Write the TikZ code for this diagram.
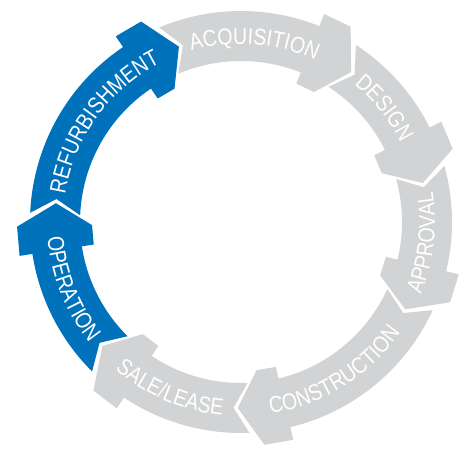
\documentclass[tikz,border=0pt]{standalone}
\usepackage{fontspec}
\newfontfamily\ringlabelfam{Liberation Sans}[FakeStretch=0.85]
\usetikzlibrary{decorations.text}
\definecolor{ringblue}{RGB}{0,114,188}
\definecolor{ringgray}{RGB}{209,211,212}
\newcommand{\ringlabelstyle}{\ringlabelfam\fontsize{23}{23}\selectfont\color{white}}
% #1 tail apex angle, #2 head apex angle, #3 colour
\newcommand{\ringseg}[3]{%
  \pgfmathsetmacro{\hA}{#2+7}%
  \pgfmathsetmacro{\hB}{#2+14.5}%
  \pgfmathsetmacro{\tO}{#1+3.3}%
  \pgfmathsetmacro{\tI}{#1+3.4}%
  \pgfmathsetmacro{\tN}{#1-1.3}%
  \fill[#3] (#2:186pt) -- (\hA:224pt) -- (\hB:224pt) -- (\hB:211pt)
    arc[start angle=\hB, end angle=\tO, radius=211pt] -- (\tN:186pt) -- (\tI:161pt)
    arc[start angle=\tI, end angle=\hB, radius=161pt] -- (\hB:149pt) -- (\hA:149pt) -- cycle;
}
% clockwise label, letters facing outward
\newcommand{\outlabel}[2]{%
  \pgfmathsetmacro{\la}{#1+45}\pgfmathsetmacro{\lb}{#1-45}%
  \path[decorate, decoration={text along path, text align=center, text={|\ringlabelstyle|#2}}]
    (\la:178pt) arc[start angle=\la, end angle=\lb, radius=178pt];
}
% counter-clockwise label, letters facing inward
\newcommand{\inlabel}[2]{%
  \pgfmathsetmacro{\la}{#1-45}\pgfmathsetmacro{\lb}{#1+45}%
  \path[decorate, decoration={text along path, text align=center, text={|\ringlabelstyle|#2}}]
    (\la:194pt) arc[start angle=\la, end angle=\lb, radius=194pt];
}
\begin{document}
\begin{tikzpicture}[x=1pt,y=1pt]
\useasboundingbox (0,0) rectangle (470,448);
\begin{scope}[shift={(241pt,226pt)}]
  \ringseg{174.2}{109.5}{ringblue}   % refurbishment
  \ringseg{109.5}{53.7}{ringgray}    % acquisition
  \ringseg{53.7}{12.1}{ringgray}     % design
  \ringseg{12.1}{-28}{ringgray}      % approval
  \ringseg{-28}{-91}{ringgray}       % construction
  \ringseg{-91}{-138.2}{ringgray}    % sale/lease
  \ringseg{-138.2}{-185.8}{ringblue} % operation
  \outlabel{85.7}{ACQUISITION}
  \outlabel{38.5}{DESIGN}
  \inlabel{-6.5}{APPROVAL}
  \inlabel{-58}{CONSTRUCTION}
  \inlabel{-113}{SALE/LEASE}
  \inlabel{-158.4}{OPERATION}
  \outlabel{143.9}{REFURBISHMENT}
\end{scope}
\end{tikzpicture}
\end{document}
